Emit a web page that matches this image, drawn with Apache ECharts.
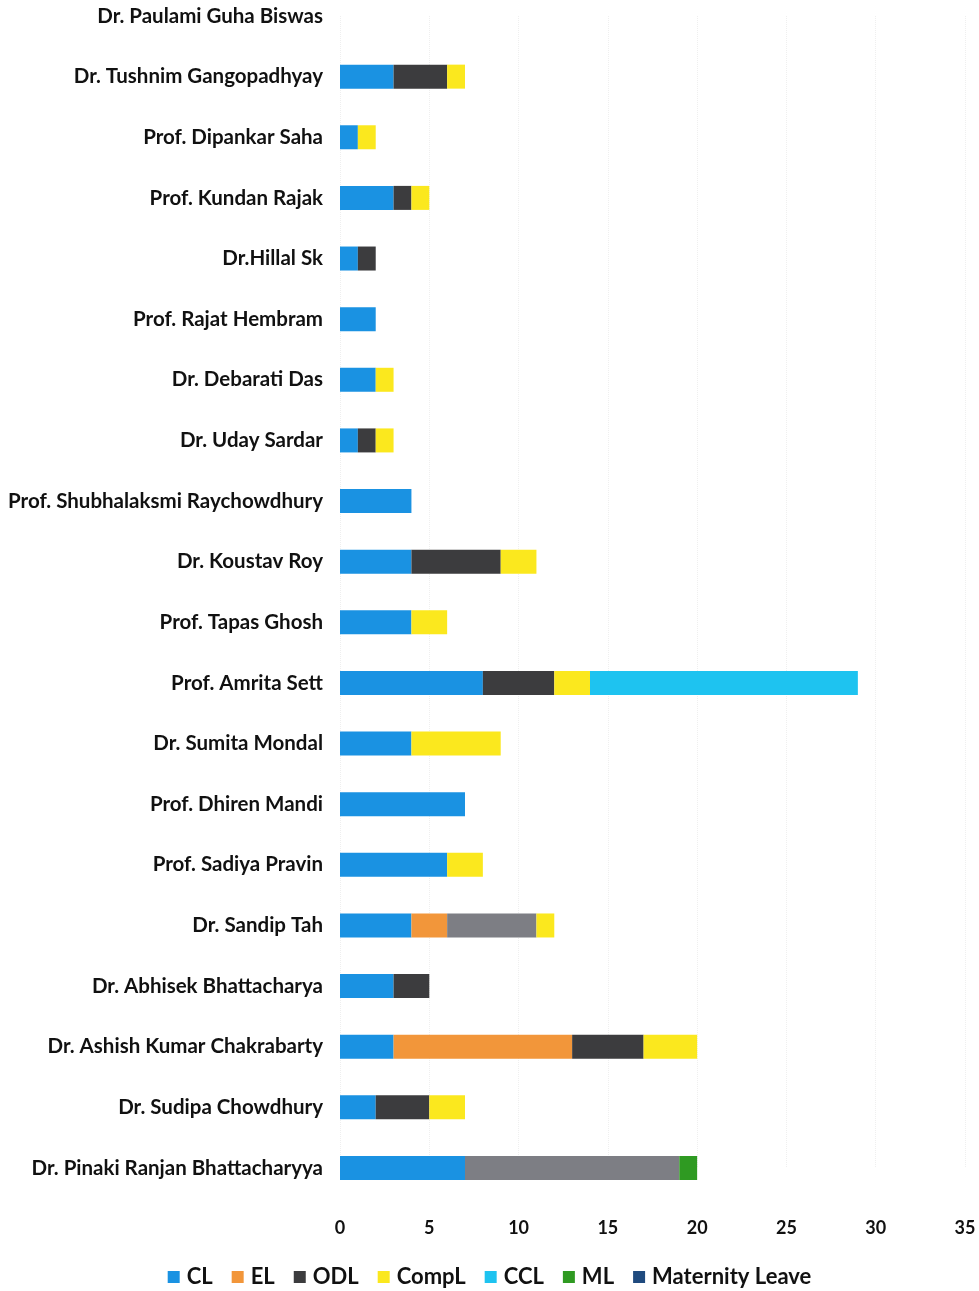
<!DOCTYPE html>
<html>
<head>
<meta charset="utf-8">
<script src="https://cdn.jsdelivr.net/npm/echarts@6/dist/echarts.min.js"></script>
<style>
html,body{margin:0;padding:0;background:#fff;}
#chart{width:979px;height:1291px;}
</style>
</head>
<body>
<div id="chart"></div>
<script>
// Categories listed bottom to top (as on the category axis)
const categories = [
  "Dr. Pinaki Ranjan Bhattacharyya",
  "Dr. Sudipa Chowdhury",
  "Dr. Ashish Kumar Chakrabarty",
  "Dr. Abhisek Bhattacharya",
  "Dr. Sandip Tah",
  "Prof. Sadiya Pravin",
  "Prof. Dhiren Mandi",
  "Dr. Sumita Mondal",
  "Prof. Amrita Sett",
  "Prof. Tapas Ghosh",
  "Dr. Koustav Roy",
  "Prof. Shubhalaksmi Raychowdhury",
  "Dr. Uday Sardar",
  "Dr. Debarati Das",
  "Prof. Rajat Hembram",
  "Dr.Hillal Sk",
  "Prof. Kundan Rajak",
  "Prof. Dipankar Saha",
  "Dr. Tushnim Gangopadhyay",
  "Dr. Paulami Guha Biswas"
];
const seriesNames = ["CL", "EL", "ODL", "CompL", "CCL", "ML", "Maternity Leave"];
const CL        = [7, 2, 3, 3, 4, 6, 7, 4, 8, 4, 4, 4, 1, 2, 2, 1, 3, 1, 3, 0];
const EL        = [0, 0, 10, 0, 2, 0, 0, 0, 0, 0, 0, 0, 0, 0, 0, 0, 0, 0, 0, 0];
const ODL       = [12, 3, 4, 2, 5, 0, 0, 0, 4, 0, 5, 0, 1, 0, 0, 1, 1, 0, 3, 0];
const CompL     = [0, 2, 3, 0, 1, 2, 0, 5, 2, 2, 2, 0, 1, 1, 0, 0, 1, 1, 1, 0];
const CCL       = [0, 0, 0, 0, 0, 0, 0, 0, 15, 0, 0, 0, 0, 0, 0, 0, 0, 0, 0, 0];
const ML        = [1, 0, 0, 0, 0, 0, 0, 0, 0, 0, 0, 0, 0, 0, 0, 0, 0, 0, 0, 0];
const Maternity = [0, 0, 0, 0, 0, 0, 0, 0, 0, 0, 0, 0, 0, 0, 0, 0, 0, 0, 0, 0];
const xTicks = [0, 5, 10, 15, 20, 25, 30, 35];

const seriesData = [CL, EL, ODL, CompL, CCL, ML, Maternity];
const colors = ["#1a92e2", "#f2963a", "#3c3c3e", "#fbe81e", "#1ec3f0", "#2f9a22", "#1f4a7e"];
// In the printed reference the ODL segments of these two rows come out lighter grey
const lighterOdlRows = ["Dr. Sandip Tah", "Dr. Pinaki Ranjan Bhattacharyya"];

function buildData(name, values) {
  return values.map((v, i) => {
    if (name === "ODL" && lighterOdlRows.indexOf(categories[i]) >= 0) {
      return { value: v, itemStyle: { color: '#7d7e84' } };
    }
    return v;
  });
}

const chart = echarts.init(document.getElementById('chart'));
chart.setOption({
  backgroundColor: '#ffffff',
  animation: false,
  color: colors,
  textStyle: { fontFamily: 'Lato' },
  grid: { left: 340, right: 14, top: 16, bottom: 123, containLabel: false },
  xAxis: {
    type: 'value',
    min: xTicks[0],
    max: xTicks[xTicks.length - 1],
    interval: 5,
    axisLine: { show: false },
    axisTick: { show: false },
    axisLabel: { color: '#111', fontSize: 18, fontFamily: 'Lato', fontWeight: 'bold', margin: 51 },
    splitLine: { show: true, lineStyle: { color: '#efefef', type: 'dotted', width: 1 } }
  },
  yAxis: {
    type: 'category',
    data: categories,
    boundaryGap: false,
    axisLine: { show: false },
    axisTick: { show: false },
    axisLabel: { color: '#111', fontSize: 20.5, fontFamily: 'Lato', fontWeight: 'bold', margin: 17 }
  },
  legend: {
    bottom: -2,
    left: 'center',
    itemWidth: 12,
    itemHeight: 12,
    itemGap: 19,
    icon: 'rect',
    textStyle: { color: '#111', fontSize: 22, fontWeight: 'bold', fontFamily: 'Lato', padding: [0, 0, 0, 2] },
    data: seriesNames
  },
  series: seriesNames.map((name, i) => ({
    name: name,
    type: 'bar',
    stack: 'total',
    barWidth: 24,
    data: buildData(name, seriesData[i])
  }))
});
</script>
</body>
</html>
